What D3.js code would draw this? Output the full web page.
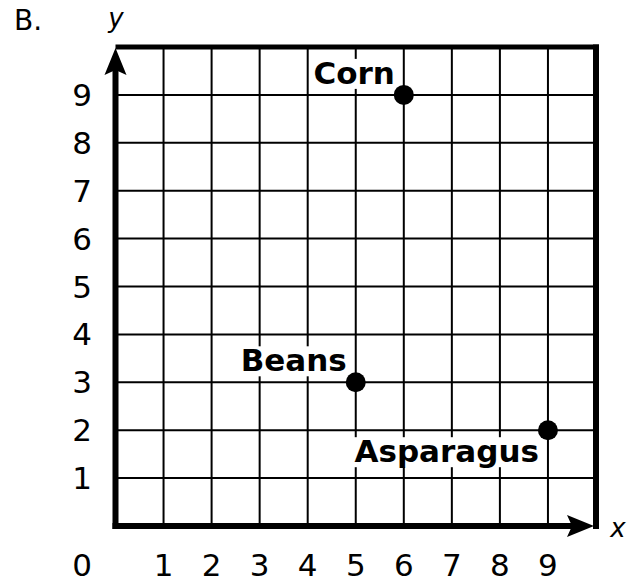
<!DOCTYPE html>
<html>
<head>
<meta charset="utf-8">
<script src="https://cdn.jsdelivr.net/npm/d3@7"></script>
<style>
  body { margin: 0; background: #fff; }
  text { font-family: "DejaVu Sans", Verdana, sans-serif; }
</style>
</head>
<body>
<div id="chart"></div>
<script>
// data
var xTicks = [0, 1, 2, 3, 4, 5, 6, 7, 8, 9];
var yTicks = [1, 2, 3, 4, 5, 6, 7, 8, 9];
var crops = ["Corn", "Beans", "Asparagus"];
var cropX = [6, 5, 9];
var cropY = [9, 3, 2];

var largeur = 640, hauteur = 584;
var svg = d3.select("#chart").append("svg")
  .attr("width", largeur)
  .attr("height", hauteur);

var x = d3.scaleLinear().domain([0, 10]).range([115.5, 596]);
var y = d3.scaleLinear().domain([0, 10]).range([526, 47]);

// grid
var grid = svg.append("g").attr("stroke", "#000").attr("stroke-width", 2);
grid.selectAll(".vx").data(d3.range(1, 10)).enter().append("line")
  .attr("x1", function(d){ return x(d); }).attr("x2", function(d){ return x(d); })
  .attr("y1", y(10)).attr("y2", y(0));
grid.selectAll(".hy").data(d3.range(1, 10)).enter().append("line")
  .attr("y1", function(d){ return y(d); }).attr("y2", function(d){ return y(d); })
  .attr("x1", x(0)).attr("x2", x(10));

// labels with white boxes
var labels = svg.append("g");
crops.forEach(function(name, i) {
  var px = x(cropX[i]), py = y(cropY[i]);
  var below = name === "Asparagus";
  var t = labels.append("text")
    .attr("x", px - 9)
    .attr("y", below ? py + 32 : py - 11)
    .attr("text-anchor", "end")
    .attr("font-weight", "bold")
    .attr("font-size", 31)
    .text(name);
  var b = t.node().getBBox();
  labels.insert("rect", "text")
    .attr("x", b.x - 3).attr("y", b.y + 4)
    .attr("width", b.width + 6).attr("height", b.height - 6)
    .attr("fill", "#fff");
});

// frame: top and right borders
svg.append("line").attr("x1", x(0)).attr("x2", x(10) + 3)
  .attr("y1", y(10)).attr("y2", y(10))
  .attr("stroke", "#000").attr("stroke-width", 5);
svg.append("line").attr("x1", x(10)).attr("x2", x(10))
  .attr("y1", y(10) - 2.5).attr("y2", y(0) + 3)
  .attr("stroke", "#000").attr("stroke-width", 6);

// axes with arrows
svg.append("line").attr("x1", x(0)).attr("x2", x(0))
  .attr("y1", y(0) + 3).attr("y2", y(10) + 20)
  .attr("stroke", "#000").attr("stroke-width", 6);
svg.append("line").attr("x1", x(0) - 3).attr("x2", x(10) - 22)
  .attr("y1", y(0)).attr("y2", y(0))
  .attr("stroke", "#000").attr("stroke-width", 6);

var arrow = "M0,0 L-11,27 L0,22 L11,27 Z";
svg.append("path").attr("d", arrow)
  .attr("transform", "translate(" + x(0) + "," + (y(10) + 1) + ")");
svg.append("path").attr("d", arrow)
  .attr("transform", "translate(" + (x(10) - 2) + "," + y(0) + ") rotate(90)");

// points
svg.selectAll(".pt").data(crops).enter().append("circle")
  .attr("cx", function(d, i){ return x(cropX[i]); })
  .attr("cy", function(d, i){ return y(cropY[i]); })
  .attr("r", 10)
  .attr("fill", "#000");

// tick labels
svg.selectAll(".yt").data(yTicks).enter().append("text")
  .attr("x", 82).attr("y", function(d){ return y(d) + 11; })
  .attr("text-anchor", "middle").attr("font-size", 31)
  .text(function(d){ return d; });
svg.selectAll(".xt").data(xTicks).enter().append("text")
  .attr("x", function(d){ return d === 0 ? 82 : x(d); })
  .attr("y", 576)
  .attr("text-anchor", "middle").attr("font-size", 31)
  .text(function(d){ return d; });

// titles
svg.append("text").attr("x", 14).attr("y", 30).attr("font-size", 28).text("B.");
svg.append("text").attr("x", 116).attr("y", 27).attr("text-anchor", "middle")
  .attr("font-size", 26).attr("font-style", "italic").text("y");
svg.append("text").attr("x", 618).attr("y", 537).attr("text-anchor", "middle")
  .attr("font-size", 26).attr("font-style", "italic").text("x");
</script>
</body>
</html>
